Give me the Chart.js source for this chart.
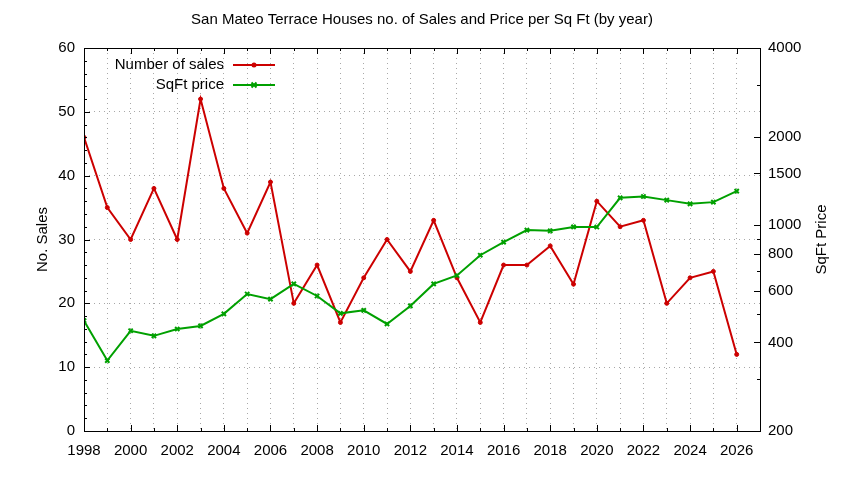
<!DOCTYPE html>
<html>
<head>
<meta charset="utf-8">
<title>San Mateo Terrace Houses</title>
<script src="https://cdn.jsdelivr.net/npm/chart.js@4.4.0/dist/chart.umd.min.js"></script>
<style>
  html, body { margin: 0; padding: 0; background: #fff; }
  #wrap { width: 844px; height: 480px; }
</style>
</head>
<body>
<div id="wrap"><canvas id="salesChart" width="844" height="480"></canvas></div>
<script>
// years shown on the x axis
const years = [1998, 1999, 2000, 2001, 2002, 2003, 2004, 2005, 2006, 2007,
               2008, 2009, 2010, 2011, 2012, 2013, 2014, 2015, 2016, 2017,
               2018, 2019, 2020, 2021, 2022, 2023, 2024, 2025, 2026];

// number of sales per year (left axis)
const salesCount = [46, 35, 30, 38, 30, 52, 38, 31, 39, 20,
                    26, 17, 24, 30, 25, 33, 24, 17, 26, 26,
                    29, 23, 36, 32, 33, 20, 24, 25, 12];

// price per sq ft per year (right axis, log)
const sqftPrice = [474, 347, 438, 421, 444, 455, 500, 584, 561, 632,
                   575, 502, 514, 462, 532, 632, 675, 791, 876, 963,
                   957, 987, 986, 1239, 1252, 1217, 1182, 1198, 1306];

// right axis tick marks, and which ones get a label
const priceTicks = [200, 300, 400, 500, 600, 700, 800, 900, 1000, 1500, 2000, 3000, 4000];
const priceLabels = [200, 400, 600, 800, 1000, 1500, 2000, 4000];

const salesTitle = 'No. Sales';
const priceTitle = 'SqFt Price';

const fontName = '"Liberation Sans", Arial, sans-serif';
Chart.defaults.font.family = fontName;
Chart.defaults.font.size = 15;
Chart.defaults.color = '#000';

//draws the frame, the inward tick marks, legend and right axis title
const framePlugin = {
    id: 'gnuFrame',
    afterDraw(chart) {
        const ctx = chart.ctx;
        const area = chart.chartArea;
        const xs = chart.scales.x;
        const ys = chart.scales.y;
        const y2s = chart.scales.y2;

        ctx.save();
        ctx.strokeStyle = '#000';
        ctx.lineWidth = 1;
        ctx.strokeRect(Math.round(area.left) + 0.5, Math.round(area.top) + 0.5,
                       Math.round(area.right - area.left), Math.round(area.bottom - area.top));

        ctx.beginPath();
        // x ticks bottom + top
        xs.ticks.forEach(t => {
            const px = Math.round(xs.getPixelForValue(t.value)) + 0.5;
            const len = t.value % 2 === 0 ? 6 : 3;
            ctx.moveTo(px, area.bottom); ctx.lineTo(px, area.bottom - len);
            ctx.moveTo(px, area.top); ctx.lineTo(px, area.top + len);
        });
        // left ticks, minor every 2
        for (let v = ys.min; v <= ys.max; v += 2) {
            const py = Math.round(ys.getPixelForValue(v)) + 0.5;
            const len = v % 10 === 0 ? 6 : 3;
            ctx.moveTo(area.left, py); ctx.lineTo(area.left + len, py);
        }
        // right ticks
        y2s.ticks.forEach(t => {
            const py = Math.round(y2s.getPixelForValue(t.value)) + 0.5;
            const len = priceLabels.includes(t.value) ? 6 : 3;
            ctx.moveTo(area.right, py); ctx.lineTo(area.right - len, py);
        });
        ctx.stroke();

        // right axis title, reading upwards
        ctx.fillStyle = '#000';
        ctx.font = '15px ' + fontName;
        ctx.textAlign = 'center';
        ctx.textBaseline = 'middle';
        ctx.translate(822, (area.top + area.bottom) / 2);
        ctx.rotate(-Math.PI / 2);
        ctx.fillText(priceTitle, 0, 0);
        ctx.restore();

        // legend, text on the left of the sample
        chart.data.datasets.forEach((ds, i) => {
            const ly = area.top + 17 + i * 20;
            const tx = area.left + 140;
            ctx.save();
            ctx.font = '15px ' + fontName;
            ctx.fillStyle = '#000';
            ctx.textAlign = 'right';
            ctx.textBaseline = 'middle';
            ctx.fillText(ds.label, tx, ly);
            ctx.strokeStyle = ds.borderColor;
            ctx.fillStyle = ds.borderColor;
            ctx.lineWidth = 2;
            ctx.beginPath();
            ctx.moveTo(tx + 9, ly); ctx.lineTo(tx + 51, ly);
            ctx.stroke();
            const mx = tx + 30;
            ctx.beginPath();
            if (ds.pointStyle === 'crossRot') {
                ctx.moveTo(mx - 2.5, ly - 2.5); ctx.lineTo(mx + 2.5, ly + 2.5);
                ctx.moveTo(mx - 2.5, ly + 2.5); ctx.lineTo(mx + 2.5, ly - 2.5);
                ctx.stroke();
            } else {
                ctx.arc(mx, ly, 2.5, 0, Math.PI * 2);
                ctx.fill();
            }
            ctx.restore();
        });
    }
};

const salesPoints = years.map((yr, i) => ({x: yr, y: salesCount[i]}));
const pricePoints = years.map((yr, i) => ({x: yr, y: sqftPrice[i]}));

new Chart(document.getElementById('salesChart'), {
    type: 'line',
    data: {
        datasets: [{
            label: 'Number of sales',
            data: salesPoints,
            yAxisID: 'y',
            borderColor: '#cc0000',
            backgroundColor: '#cc0000',
            borderWidth: 2,
            pointStyle: 'circle',
            pointRadius: 2,
            pointBorderWidth: 1,
            tension: 0,
            order: 1
        }, {
            label: 'SqFt price',
            data: pricePoints,
            yAxisID: 'y2',
            borderColor: '#00a000',
            backgroundColor: '#00a000',
            borderWidth: 2,
            pointStyle: 'crossRot',
            pointRadius: 3,
            pointBorderWidth: 2,
            tension: 0,
            order: 0
        }]
    },
    options: {
        responsive: false,
        animation: false,
        devicePixelRatio: 1,
        layout: { padding: 0 },
        plugins: {
            legend: { display: false },
            tooltip: { enabled: false },
            title: {
                display: true,
                text: 'San Mateo Terrace Houses no. of Sales and Price per Sq Ft (by year)',
                font: { size: 15, weight: 'normal' },
                color: '#000',
                padding: { top: 11, bottom: 19 }
            }
        },
        scales: {
            x: {
                type: 'linear',
                min: 1998,
                max: 2027,
                afterBuildTicks: s => { s.ticks = years.map(v => ({value: v})); },
                afterFit: s => { s.height = 49; },
                ticks: {
                    autoSkip: false,
                    maxRotation: 0,
                    padding: 11,
                    callback: v => (v % 2 === 0 ? String(v) : '')
                },
                grid: { color: '#a8a8a8', lineWidth: 1, drawTicks: false },
                border: { display: false, dash: [1, 4] }
            },
            y: {
                position: 'left',
                min: 0,
                max: 60,
                afterFit: s => { s.width = 84; },
                ticks: { stepSize: 10, padding: 9 },
                grid: { color: '#a8a8a8', lineWidth: 1, drawTicks: false },
                border: { display: false, dash: [1, 4] },
                title: {
                    display: true,
                    text: salesTitle,
                    font: { size: 15 },
                    padding: { top: 34, bottom: 0 }
                }
            },
            y2: {
                type: 'logarithmic',
                position: 'right',
                min: 200,
                max: 4000,
                afterBuildTicks: s => { s.ticks = priceTicks.map(v => ({value: v})); },
                afterFit: s => { s.width = 84; },
                ticks: {
                    autoSkip: false,
                    padding: 8,
                    callback: v => (priceLabels.includes(v) ? String(v) : '')
                },
                grid: { drawOnChartArea: false, drawTicks: false },
                border: { display: false }
            }
        }
    },
    plugins: [framePlugin]
});
</script>
</body>
</html>
